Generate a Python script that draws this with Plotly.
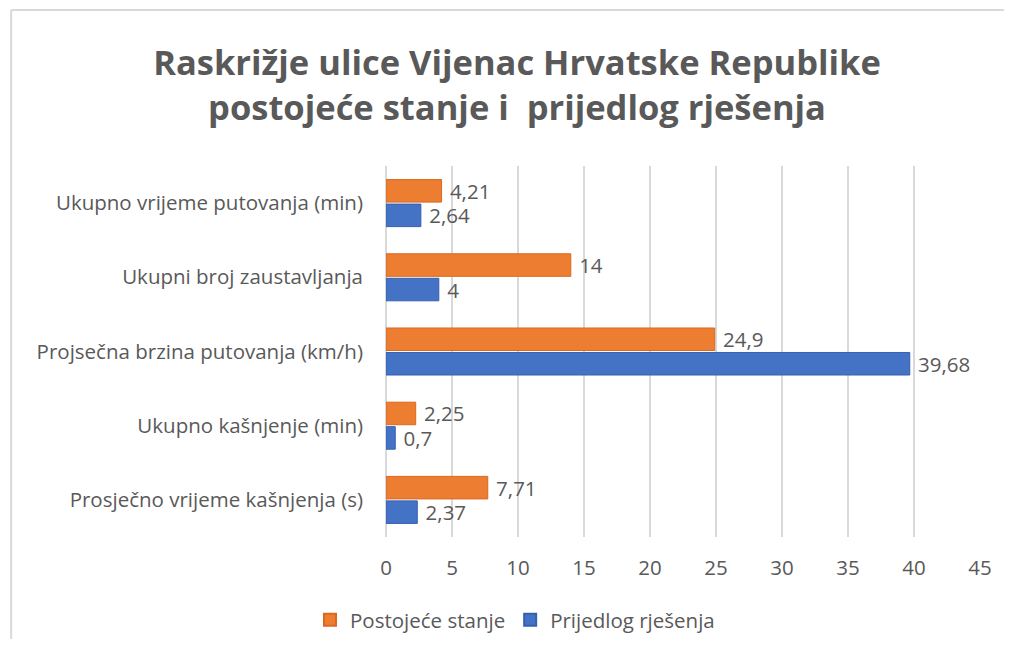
import plotly.graph_objects as go

categories = [
    "Ukupno vrijeme putovanja (min)",
    "Ukupni broj zaustavljanja",
    "Projsečna brzina putovanja (km/h)",
    "Ukupno kašnjenje (min)",
    "Prosječno vrijeme kašnjenja (s)",
]
postojece = [4.21, 14, 24.9, 2.25, 7.71]
prijedlog = [2.64, 4, 39.68, 0.7, 2.37]
series_names = ["Postojeće stanje", "Prijedlog rješenja"]
x_ticks = [0, 5, 10, 15, 20, 25, 30, 35, 40, 45]

FONT = "Open Sans"
GRAY = "#595959"
FS = 20.5


def fmt(v):
    return str(v).replace(".", ",")


fig = go.Figure()
fig.add_trace(go.Bar(
    y=categories, x=postojece, orientation="h", name=series_names[0],
    marker=dict(color="#ED7D31", line=dict(color="#D9691F", width=1)),
    text=[" " + fmt(v) for v in postojece], textposition="outside",
    constraintext="none",
    textfont=dict(size=FS, color=GRAY, family=FONT), cliponaxis=False,
))
fig.add_trace(go.Bar(
    y=categories, x=prijedlog, orientation="h", name=series_names[1],
    marker=dict(color="#4472C4", line=dict(color="#3560B0", width=1)),
    text=[" " + fmt(v) for v in prijedlog], textposition="outside",
    constraintext="none",
    textfont=dict(size=FS, color=GRAY, family=FONT), cliponaxis=False,
))

# page has an 8px body margin; figure coords = page coords - 8
OFF = 8
W, H = 1012 - 2 * OFF, 653 - 2 * OFF - 6
L = 386 - OFF
R = W - (985 - OFF)
T = 166 - OFF
B = H - (537 - OFF)
pw, ph = W - L - R, H - T - B

bx0 = (8 - OFF - L) / pw
by1 = 1 + (T - (10 - OFF)) / ph

fig.update_layout(
    width=W, height=H,
    margin=dict(l=L, r=R, t=T, b=B),
    paper_bgcolor="white", plot_bgcolor="white",
    barmode="group", bargap=0.34, bargroupgap=0.08,
    font=dict(family=FONT, color=GRAY, size=FS),
    title=dict(
        text="Raskrižje ulice Vijenac Hrvatske Republike<br>postojeće stanje i  prijedlog rješenja",
        x=(517 - OFF) / W, xref="container", xanchor="center",
        y=1 - (75 - OFF) / H, yref="container", yanchor="middle",
        font=dict(family=FONT, size=34.5, color=GRAY, weight="bold"),
    ),
    xaxis=dict(
        range=[0, 45], tickvals=x_ticks, showgrid=True, gridcolor="#D9D9D9",
        gridwidth=1.5, zeroline=True, zerolinecolor="#D9D9D9", zerolinewidth=1.5,
        showline=False, ticks="", ticklabelstandoff=16,
        tickfont=dict(size=FS, color=GRAY, family=FONT), fixedrange=True,
    ),
    yaxis=dict(
        autorange="reversed", showgrid=False, showline=False, ticks="",
        ticklabelstandoff=22, tickfont=dict(size=FS, color=GRAY, family=FONT),
    ),
    showlegend=True,
    legend=dict(
        orientation="h", x=(515 - OFF) / W, xref="container", xanchor="center",
        y=1 - (620 - OFF) / H, yref="container", yanchor="middle",
        font=dict(size=FS, color=GRAY, family=FONT), traceorder="normal",
        itemsizing="constant",
    ),
    shapes=[
        dict(type="line", xref="paper", yref="paper",
             x0=bx0, x1=(W + 20 - L) / pw, y0=by1, y1=by1,
             line=dict(color="#D9D9D9", width=2), layer="below"),
        dict(type="line", xref="paper", yref="paper",
             x0=bx0, x1=bx0, y0=-(B + 20) / ph, y1=by1,
             line=dict(color="#D9D9D9", width=2), layer="below"),
    ],
)

fig.write_html("out.html")
